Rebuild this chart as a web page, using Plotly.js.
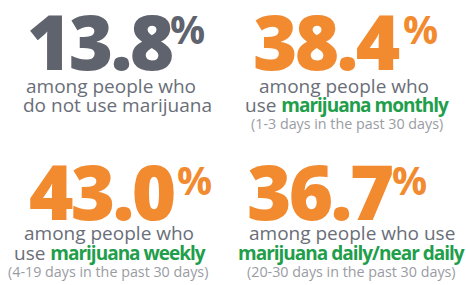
<!DOCTYPE html>
<html><head><meta charset="utf-8">
<script src="https://cdn.plot.ly/plotly-3.0.1.min.js"></script>
<style>html,body{margin:0;padding:0;background:#fff}#c{width:466px;height:285px}</style>
</head><body><div id="c"></div>
<script>
// data
const values = [13.8, 38.4, 43.0, 36.7];
const line1 = ["among people who", "among people who", "among people who", "among people who use"];
const line2Plain = ["do not use marijuana", "use ", "use ", ""];
const line2Green = ["", "marijuana monthly", "marijuana weekly", "marijuana daily/near daily"];
const notes = ["", "(1-3 days in the past 30 days)", "(4-19 days in the past 30 days)", "(20-30 days in the past 30 days)"];

// layout (pixels)
const W = 466, H = 285;
const numColor = ["#5f636d", "#f28a30", "#f28a30", "#f28a30"];
const numLeft = [25, 251, 27, 245];
const numMidY = [40.5, 40.5, 190, 190];
const pctLeft = [168, 401, 175, 390];
const pctMidY = [29, 29, 179, 179];
const l1Cx = [111, 344, 109, 351.5];
const l2Cx = [117.5, 347, 109.5, 351.5];
const nCx = [0, 347, 107.5, 351.5];
const l1Y = [86, 86, 233, 233];
const l2Y = [105, 105, 253, 253];
const nY = [123.5, 123.5, 271, 271];

const px = x => x / W, py = y => 1 - y / H;
const NUMFONT = "'Open Sans', sans-serif";
const FONT = "'Open Sans', sans-serif";
const ann = [];
values.forEach((v, i) => {
  ann.push({xref:'paper', yref:'paper', x:px(numLeft[i]), y:py(numMidY[i]), xanchor:'left', yanchor:'middle',
    text:"<span style='letter-spacing:-2.8px'>" + v.toFixed(1) + "</span>", showarrow:false,
    font:{family:NUMFONT, size:76, color:numColor[i], weight:800}});
  ann.push({xref:'paper', yref:'paper', x:px(pctLeft[i]), y:py(pctMidY[i]), xanchor:'left', yanchor:'middle',
    text:'%', showarrow:false, font:{family:NUMFONT, size:39, color:numColor[i], weight:700}});
  ann.push({xref:'paper', yref:'paper', x:px(l1Cx[i]), y:py(l1Y[i]), xanchor:'center', yanchor:'middle',
    text:line1[i], showarrow:false, font:{family:FONT, size:19, color:'#6a6e78'}});
  let t2 = line2Plain[i] + (line2Green[i] ? "<span style='color:#1f9e4b;font-weight:700;letter-spacing:-1px'>" + line2Green[i] + "</span>" : "");
  ann.push({xref:'paper', yref:'paper', x:px(l2Cx[i]), y:py(l2Y[i]), xanchor:'center', yanchor:'middle',
    text:t2, showarrow:false, font:{family:FONT, size:19, color:'#6a6e78'}});
  if (notes[i]) ann.push({xref:'paper', yref:'paper', x:px(nCx[i]), y:py(nY[i]), xanchor:'center', yanchor:'middle',
    text:notes[i], showarrow:false, font:{family:FONT, size:14.3, color:'#9a9ca3'}});
});

Plotly.newPlot('c', [], {
  width:W, height:H, margin:{l:0,r:0,t:0,b:0}, paper_bgcolor:'#fff', plot_bgcolor:'#fff',
  xaxis:{visible:false}, yaxis:{visible:false}, showlegend:false, annotations:ann
}, {staticPlot:true, displayModeBar:false});
</script></body></html>
